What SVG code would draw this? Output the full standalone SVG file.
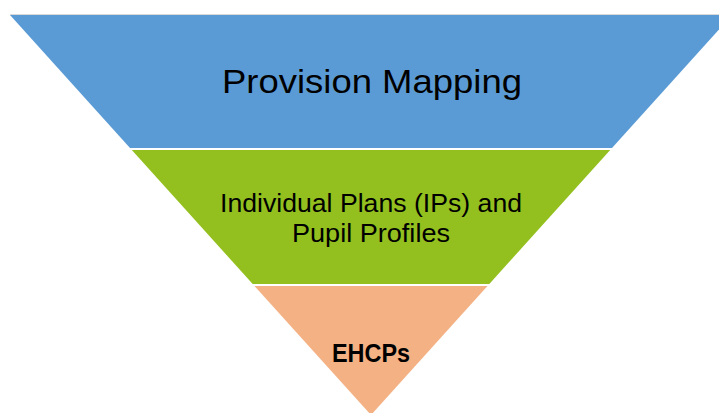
<svg xmlns="http://www.w3.org/2000/svg" width="719" height="413" viewBox="0 0 719 413">
<style>
.t{font-family:"Liberation Sans",Arial,sans-serif;fill:#000;text-anchor:middle}
</style>
<rect width="719" height="413" fill="#fff"/>
<line x1="10" y1="14.5" x2="719" y2="14.5" stroke="#d9d9d9" stroke-width="1"/>
<g id="provision-mapping">
<polygon points="10,15 732,15 612,148 130,148" fill="#5B9BD5"/>
<text class="t" x="372" y="93" font-size="34" textLength="300" lengthAdjust="spacingAndGlyphs">Provision Mapping</text>
</g>
<g id="individual-plans">
<polygon points="131.8,150 610.2,150 489.3,284 252.7,284" fill="#93C01F"/>
<text class="t" x="371" y="212" font-size="25" textLength="302" lengthAdjust="spacingAndGlyphs">Individual Plans (IPs) and</text>
<text class="t" x="371" y="242" font-size="25" textLength="158" lengthAdjust="spacingAndGlyphs">Pupil Profiles</text>
</g>
<g id="ehcps">
<polygon points="254.5,286 487.5,286 371,415" fill="#F4B183"/>
<text class="t" x="371" y="362" font-size="25" font-weight="bold" textLength="78" lengthAdjust="spacingAndGlyphs">EHCPs</text>
</g>
<g id="connectors"></g>
</svg>
